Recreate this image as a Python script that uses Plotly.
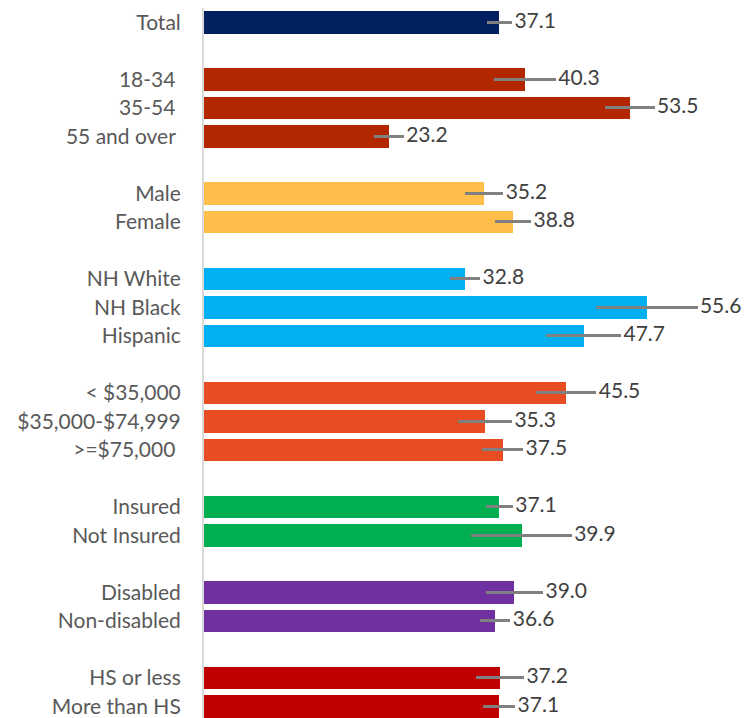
import plotly.graph_objects as go

categories = ["Total", "18-34\u00a0", "35-54\u00a0", "55 and over\u00a0", "Male", "Female",
              "NH White", "NH Black", "Hispanic", "< $35,000", "$35,000-$74,999", ">=$75,000\u00a0",
              "Insured", "Not Insured", "Disabled", "Non-disabled", "HS or less", "More than HS"]
values = [37.1, 40.3, 53.5, 23.2, 35.2, 38.8, 32.8, 55.6, 47.7, 45.5, 35.3, 37.5,
          37.1, 39.9, 39.0, 36.6, 37.2, 37.1]
errors = [1.6, 3.9, 3.1, 1.9, 2.4, 2.3, 1.9, 6.4, 4.7, 3.8, 3.4, 2.6,
          1.7, 6.3, 3.6, 1.9, 3.0, 2.0]
groups = [0, 1, 1, 1, 2, 2, 3, 3, 3, 4, 4, 4, 5, 5, 6, 6, 7, 7]
group_colors = ["#002060", "#B22600", "#FFBD4A", "#00B0F0", "#E84C22", "#00B050", "#7030A0", "#C00000"]
labels = [f"{v:.1f}" for v in values]

# one blank slot between groups
ypos = [i + g for i, g in enumerate(groups)]
colors = [group_colors[g] for g in groups]
label_gap = 0.3
label_x = [v + e + label_gap for v, e in zip(values, errors)]

fig = go.Figure()
fig.add_trace(go.Bar(
    x=values, y=ypos, orientation="h", width=0.79,
    marker=dict(color=colors, line=dict(width=0)),
    error_x=dict(type="data", array=errors, symmetric=True, color="#808080", thickness=3, width=0),
    hoverinfo="skip", showlegend=False,
))
fig.add_trace(go.Scatter(
    x=label_x, y=ypos, mode="text", text=labels, textposition="middle right",
    textfont=dict(family="Lato", size=21, color="#404040"),
    cliponaxis=False, showlegend=False, hoverinfo="skip",
))

fig.update_layout(
    width=744, height=718,
    margin=dict(l=204, r=0, t=8, b=0, autoexpand=False),
    plot_bgcolor="white", paper_bgcolor="white",
    bargap=0,
    xaxis=dict(range=[0, 67.84], showticklabels=False, showgrid=False, zeroline=False, showline=False),
    yaxis=dict(range=[24.41, -0.5], tickvals=ypos, ticktext=categories, automargin=False,
               showgrid=False, zeroline=False, showline=True, linecolor="#d9d9d9", linewidth=2,
               ticks="", ticklabelstandoff=17,
               tickfont=dict(family="Lato", size=21, color="#595959")),
)

fig.write_html("out.html", config={"displayModeBar": False},
               post_script="document.body.style.margin='0';document.body.style.overflow='hidden';")
